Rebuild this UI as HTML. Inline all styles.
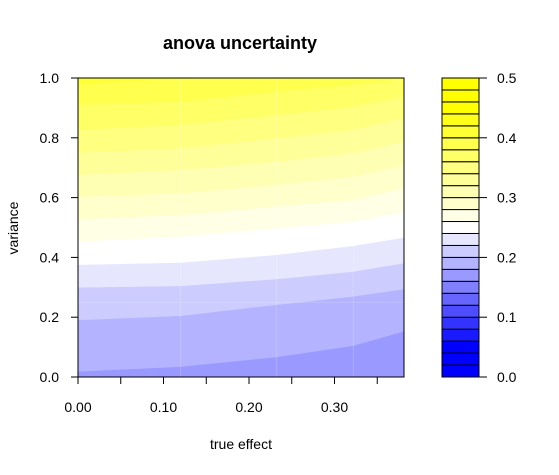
<!DOCTYPE html>
<html><head><meta charset="utf-8"><style>
body{margin:0;background:#fff;}
svg{display:block;font-family:"Liberation Sans",Arial,sans-serif;}
</style></head><body>
<svg id="chart" width="559" height="475" viewBox="0 0 559 475">
<defs><clipPath id="pc"><rect x="78" y="78" width="326" height="299"/></clipPath></defs>
<text x="240" y="49" font-size="18" font-weight="bold" text-anchor="middle">anova uncertainty</text>
<g id="plot" clip-path="url(#pc)"></g>
<g id="axes"></g>
<text x="241" y="449" font-size="14" text-anchor="middle">true effect</text>
<text transform="translate(18,228) rotate(-90)" font-size="14" text-anchor="middle">variance</text>
<g id="cbar"></g>
</svg>
<script>
// data
const xGrid = [0, 0.12, 0.232, 0.322, 0.381];
const levels = [0.18,0.20,0.22,0.24,0.26,0.28,0.30,0.32,0.34,0.36,0.38,0.40];
const boundaries = [
 [0.018,0.034,0.066,0.104,0.152],
 [0.19,0.204,0.241,0.269,0.293],
 [0.299,0.304,0.327,0.352,0.38],
 [0.375,0.382,0.408,0.438,0.466],
 [0.453,0.469,0.497,0.519,0.55],
 [0.528,0.542,0.57,0.592,0.631],
 [0.603,0.614,0.642,0.67,0.707],
 [0.676,0.692,0.72,0.748,0.787],
 [0.75,0.765,0.798,0.826,0.865],
 [0.826,0.843,0.876,0.904,0.937],
 [0.91,0.921,0.954,0.977,0.996],
 [0.982,0.996,1.02,1.04,1.06]
];
const xTicks = [0,0.05,0.10,0.15,0.20,0.25,0.30,0.35];
const xTickLabels = ["0.00","","0.10","","0.20","","0.30",""];
const yTicks = [0,0.2,0.4,0.6,0.8,1.0];
const yTickLabels = ["0.0","0.2","0.4","0.6","0.8","1.0"];
const keyLevels = [0,0.02,0.04,0.06,0.08,0.10,0.12,0.14,0.16,0.18,0.20,0.22,0.24,0.26,0.28,0.30,0.32,0.34,0.36,0.38,0.40,0.42,0.44,0.46,0.48,0.50];
const keyTicks = [0,0.1,0.2,0.3,0.4,0.5];
const keyTickLabels = ["0.0","0.1","0.2","0.3","0.4","0.5"];

const NS="http://www.w3.org/2000/svg";
const X0=78,X1=404,Y0=377,Y1=78;
const xs=v=>X0+v/0.1*85.5;
const ys=v=>Y0-v*(Y0-Y1);
function colorFor(lo){
  const i=Math.round(lo/0.02);
  if(i<12){const k=Math.max(0,Math.round(255-(12-i)*25.5));return `rgb(${k},${k},255)`;}
  if(i===12)return "#ffffff";
  const k=Math.max(0,Math.round(255-(i-12)*25.5));return `rgb(255,255,${k})`;
}
function mk(tag,attrs,parent){const e=document.createElementNS(NS,tag);for(const a in attrs)e.setAttribute(a,attrs[a]);parent.appendChild(e);return e;}

const plot=document.getElementById('plot');
const bg=mk('rect',{x:X0,y:Y1,width:X1-X0,height:Y0-Y1,fill:colorFor(levels[0]-0.02)},plot);


levels.forEach((lv,li)=>{
  let d=`M${xs(xGrid[0])},${Y1-20}`;
  boundaries[li].forEach((v,j)=>{d+=` L${xs(xGrid[j])},${ys(v)}`;});
  d+=` L${xs(xGrid[xGrid.length-1])+20},${ys(boundaries[li][xGrid.length-1])} L${xs(xGrid[xGrid.length-1])+20},${Y1-20} Z`;
  const p=mk('path',{d:d,fill:colorFor(lv)},plot);
  
  
});
xGrid.slice(1,-1).forEach(g=>{mk('line',{x1:xs(g),x2:xs(g),y1:Y1,y2:Y0,stroke:'rgba(255,255,255,0.18)','stroke-width':1},plot);});
mk('line',{x1:X0,x2:X1,y1:ys(0.25),y2:ys(0.25),stroke:'rgba(255,255,255,0.18)','stroke-width':1},plot);

const ax=document.getElementById('axes');
const frame=mk('rect',{x:X0,y:Y1,width:X1-X0,height:Y0-Y1,fill:'none',stroke:'#000','stroke-width':1},ax);


xTicks.forEach((t,i)=>{
  mk('line',{x1:xs(t),x2:xs(t),y1:Y0,y2:Y0+7,stroke:'#000'},ax);
  if(xTickLabels[i]){const tx=mk('text',{x:xs(t),y:Y0+35,'font-size':14,'text-anchor':'middle'},ax);tx.textContent=xTickLabels[i];
  
  }
});
yTicks.forEach((t,i)=>{
  mk('line',{x1:X0-7,x2:X0,y1:ys(t),y2:ys(t),stroke:'#000'},ax);
  const tx=mk('text',{x:X0-19,y:ys(t)+5,'font-size':14,'text-anchor':'end'},ax);tx.textContent=yTickLabels[i];
  
  
});

const cb=document.getElementById('cbar');
const CX0=442,CX1=479;
const ks=v=>Y0-v/0.5*(Y0-Y1);
for(let i=0;i<keyLevels.length-1;i++){
  const r=mk('rect',{x:CX0,y:ks(keyLevels[i+1]),width:CX1-CX0,height:ks(keyLevels[i])-ks(keyLevels[i+1]),fill:colorFor(keyLevels[i]),stroke:'#000','stroke-width':1},cb);
  
  
}
keyTicks.forEach((t,i)=>{
  mk('line',{x1:CX1,x2:CX1+8,y1:ks(t),y2:ks(t),stroke:'#000'},cb);
  const tx=mk('text',{x:CX1+18,y:ks(t)+5,'font-size':14},cb);tx.textContent=keyTickLabels[i];
  
  
});
</script>
</body></html>
